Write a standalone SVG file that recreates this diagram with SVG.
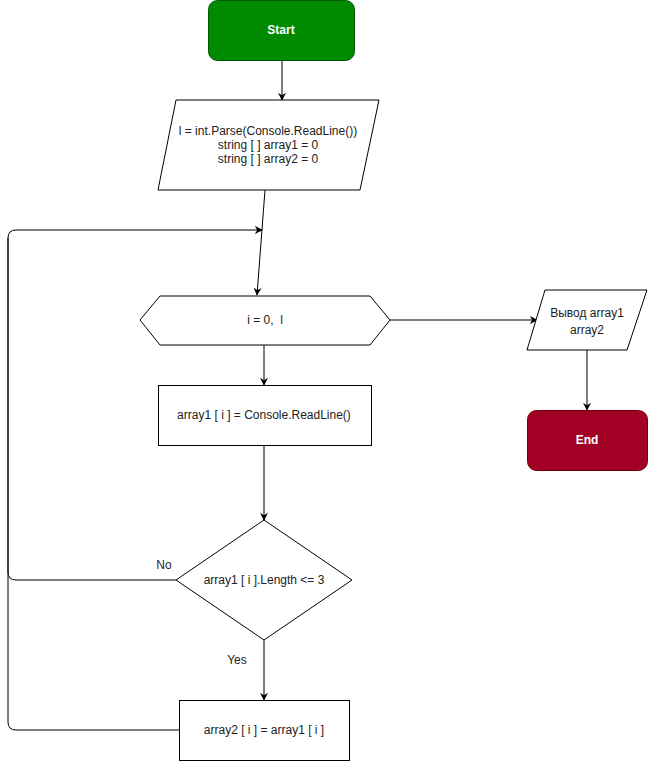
<svg xmlns="http://www.w3.org/2000/svg" width="648" height="761" viewBox="0 0 648 761">
<defs>
<marker id="arr" viewBox="0 0 10 10" refX="9" refY="5" markerWidth="8" markerHeight="8" markerUnits="userSpaceOnUse" orient="auto">
<path d="M0,0 L10,5 L0,10 L3,5 Z" fill="#000"/>
</marker>
<style>
text{font-family:"Liberation Sans",Arial,sans-serif;font-size:12px;fill:#222;text-anchor:middle;dominant-baseline:central;white-space:pre}
.w{fill:#fff;font-weight:bold}
.s{fill:#fff;stroke:#000;stroke-width:1}
.e{fill:none;stroke:#000;stroke-width:1}
</style>
</defs>
<rect width="648" height="761" fill="#fff"/>
<g id="connectors">
<path class="e" d="M282,60 L282,100" marker-end="url(#arr)"/>
<path class="e" d="M265,190 L257,295" marker-end="url(#arr)"/>
<path class="e" d="M179,730 L16,730 Q8,730 8,722 L8,238 Q8,230 16,230 L262,230" marker-end="url(#arr)"/>
<path class="e" d="M176,580 L16,580 Q8,580 8,572 L8,238"/>
<path class="e" d="M390,320 L537,320" marker-end="url(#arr)"/>
<path class="e" d="M587,350 L587,410" marker-end="url(#arr)"/>
<path class="e" d="M264,345 L264,385" marker-end="url(#arr)"/>
<path class="e" d="M264,445 L264,520" marker-end="url(#arr)"/>
<path class="e" d="M264,640 L264,700" marker-end="url(#arr)"/>
<text x="164" y="565">No</text>
<text x="237" y="660">Yes</text>
</g>
<g id="start">
<rect x="208.5" y="0.5" width="146" height="60" rx="9" fill="#008a00" stroke="#005700"/>
<text class="w" x="281" y="30">Start</text>
</g>
<g id="input">
<polygon class="s" points="176,100 379,100 360,190 158,190"/>
<text x="268" y="131">l = int.Parse(Console.ReadLine())</text>
<text x="268" y="145">string [ ] array1 = 0</text>
<text x="268" y="159">string [ ] array2 = 0</text>
</g>
<g id="loop">
<polygon class="s" points="140,320 160,296 370,296 390,320 370,345 160,345"/>
<text x="265" y="320" xml:space="preserve">i = 0,  l</text>
</g>
<g id="output">
<polygon class="s" points="545,290 647,290 627,350 527,350"/>
<text x="587" y="313">Вывод array1</text>
<text x="587" y="330">array2</text>
</g>
<g id="end">
<rect x="527.5" y="410.5" width="120" height="60" rx="9" fill="#a20025" stroke="#6f0000"/>
<text class="w" x="587" y="440">End</text>
</g>
<g id="read">
<rect class="s" x="158.5" y="385.5" width="213" height="60"/>
<text x="264" y="415">array1 [ i ] = Console.ReadLine()</text>
</g>
<g id="cond">
<polygon class="s" points="264,520 352,580 264,640 176,580"/>
<text x="264" y="580">array1 [ i ].Length &lt;= 3</text>
</g>
<g id="assign">
<rect class="s" x="179.5" y="700.5" width="170" height="60"/>
<text x="264" y="730">array2 [ i ] = array1 [ i ]</text>
</g>
</svg>
